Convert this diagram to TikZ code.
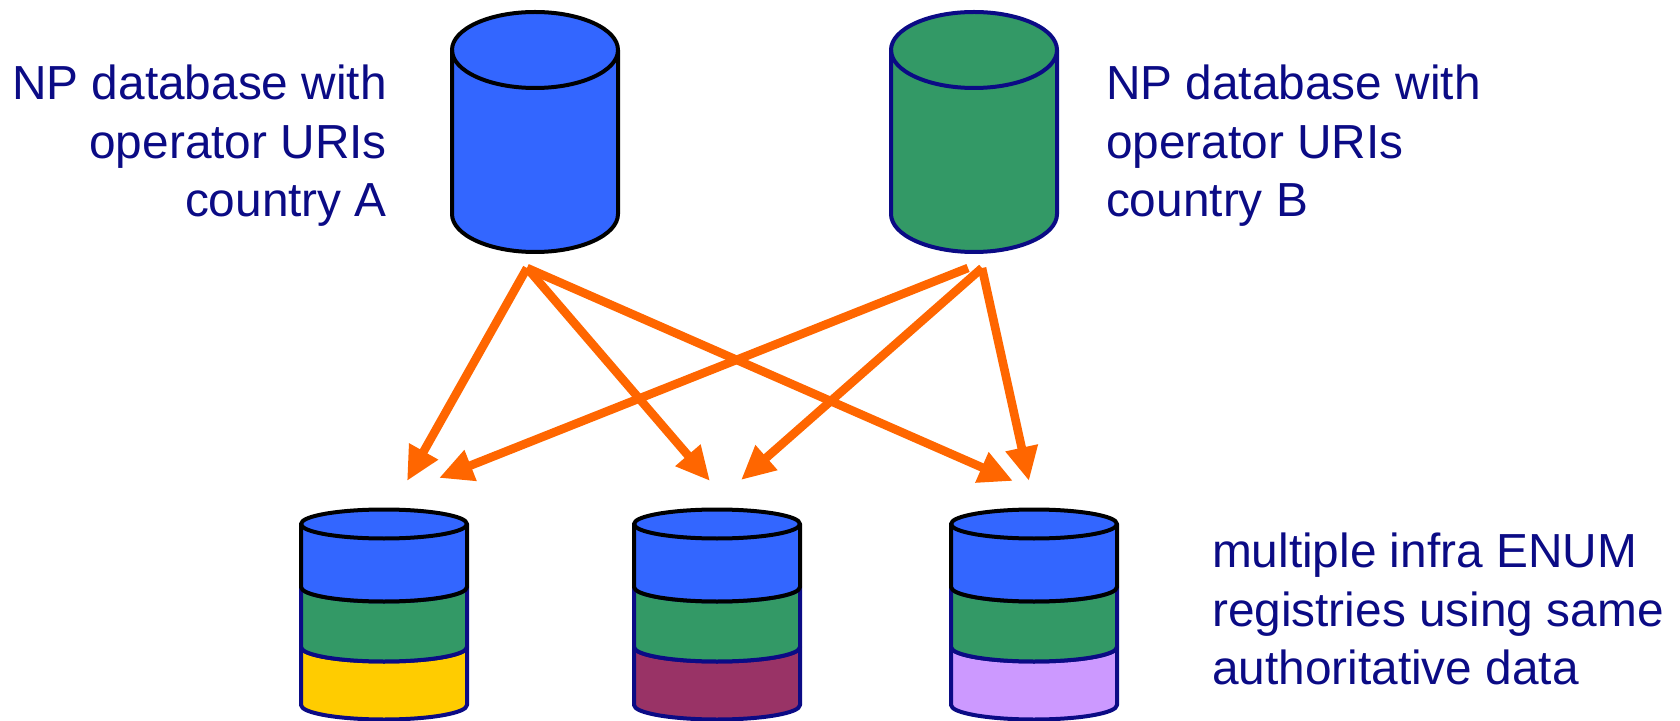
\documentclass[tikz,border=0pt]{standalone}
\usepackage{fontspec}
\setmainfont{Liberation Sans}
\usetikzlibrary{arrows.meta, positioning}

\definecolor{navytext}{HTML}{0B0B85}
\definecolor{dbblue}{HTML}{3366FF}
\definecolor{dbgreen}{HTML}{339966}
\definecolor{dbyellow}{HTML}{FFCC00}
\definecolor{dbplum}{HTML}{993366}
\definecolor{dblilac}{HTML}{CC99FF}
\definecolor{linkorange}{HTML}{FF6600}

\tikzset{
  dbpart/.style={line width=2pt, line join=round},
  dbtext/.style={text=navytext, font=\fontsize{23.9pt}{29.2pt}\selectfont},
  link/.style={-{Triangle[length=17pt, width=15.5pt]}, linkorange, line width=4.3pt},
}

% name, centre x, upper y, lower y, end radius, line colour, fill colour
\newcommand{\drum}[7]{
  \node[inner sep=0pt, outer sep=0pt] (#1) at (#2,{(#3+#4)/2}) {};
  \draw[dbpart, draw=#6, fill=#7] (#2-83,#3) -- (#2-83,#4)
    arc[start angle=180, end angle=360, x radius=41.5pt, y radius=#5]
    -- (#2+83,#3)
    arc[start angle=0, end angle=180, x radius=41.5pt, y radius=#5] -- cycle;
  \draw[dbpart, draw=#6] (#2-83,#3) arc[start angle=180, end angle=360, x radius=41.5pt, y radius=#5];
}

\begin{document}
\begin{tikzpicture}[x=0.5pt, y=-0.5pt]
  \useasboundingbox (0,0) rectangle (1680,721);

  %Source databases
  \drum{dbA}{535}{50}{214}{19pt}{black}{dbblue}
  \drum{dbB}{974}{50}{214}{19pt}{navytext}{dbgreen}
  \node[dbtext, align=right, anchor=east] (textA) at (394,146) {NP database with\\operator URIs\\country A};
  \node[dbtext, align=left, anchor=west] (textB) at (1099,146) {NP database with\\operator URIs\\country B};

  %Registries, lowest layer first
  \drum{regAc}{384}{647}{705}{7.25pt}{navytext}{dbyellow}
  \drum{regAb}{384}{587}{647}{7.25pt}{navytext}{dbgreen}
  \drum{regAa}{384}{524}{587}{7.25pt}{black}{dbblue}

  \drum{regBc}{717}{647}{705}{7.25pt}{navytext}{dbplum}
  \drum{regBb}{717}{587}{647}{7.25pt}{navytext}{dbgreen}
  \drum{regBa}{717}{524}{587}{7.25pt}{black}{dbblue}

  \drum{regCc}{1034}{647}{705}{7.25pt}{navytext}{dblilac}
  \drum{regCb}{1034}{587}{647}{7.25pt}{navytext}{dbgreen}
  \drum{regCa}{1034}{524}{587}{7.25pt}{black}{dbblue}

  \node[dbtext, align=left, anchor=west] (textC) at (1205,609) {multiple infra ENUM\\registries using same\\authoritative data};

  % Arrow ends
  \coordinate (outA) at (527,268);
  \coordinate (outBa) at (968,268);
  \coordinate (outBb) at (982,268);
  \coordinate (inAa) at (407,481);
  \coordinate (inAb) at (439,478);
  \coordinate (inBa) at (710,481);
  \coordinate (inBb) at (741,480);
  \coordinate (inCa) at (1013,481);
  \coordinate (inCb) at (1029,481);

  % Connect the nodes
  \draw[link] (outA) -- (inAa);
  \draw[link] (outA) -- (inBa);
  \draw[link] (outA) -- (inCa);
  \draw[link] (outBa) -- (inAb);
  \draw[link] (outBb) -- (inBb);
  \draw[link] (outBb) -- (inCb);
\end{tikzpicture}
\end{document}
